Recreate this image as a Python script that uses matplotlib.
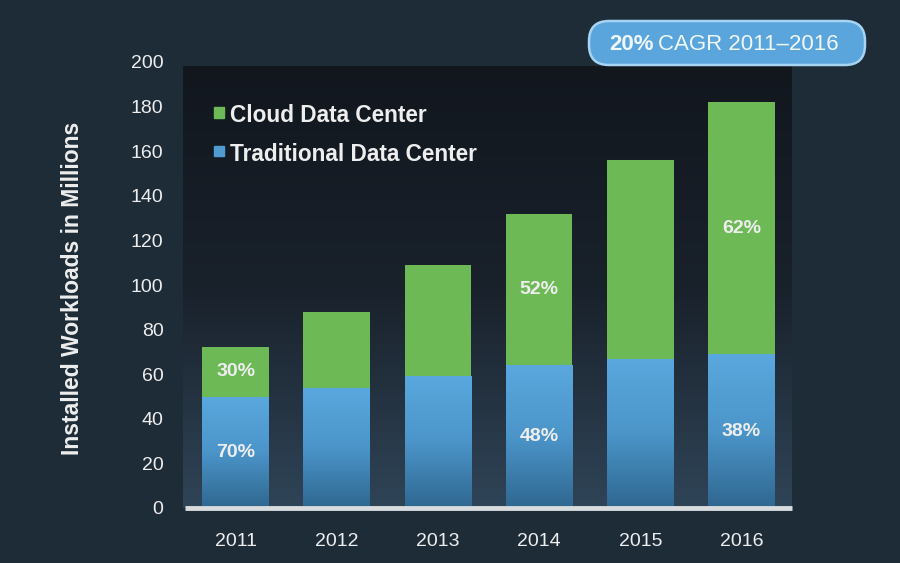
import numpy as np
import matplotlib
matplotlib.use("Agg")
import matplotlib.pyplot as plt
from matplotlib.patches import FancyBboxPatch, Rectangle

# дані з графіка
years = ["2011", "2012", "2013", "2014", "2015", "2016"]
traditional = [50, 54, 59, 64, 67, 69]
cloud = [22, 34, 50, 68, 89, 113]
cloud_pct = ["30%", "", "", "52%", "", "62%"]
trad_pct = ["70%", "", "", "48%", "", "38%"]
y_ticks = [0, 20, 40, 60, 80, 100, 120, 140, 160, 180, 200]

fig_bg = "#1e2c38"
green = "#6cb956"
text_col = "#eeeeee"

plt.rcParams["font.family"] = ["Liberation Sans", "DejaVu Sans"]

fig = plt.figure(figsize=(9, 5.63), dpi=100, facecolor=fig_bg)
ax = fig.add_axes([183 / 900, 1 - 508 / 563, (792 - 183) / 900, (508 - 62) / 563])
ax.set_facecolor("none")

x = np.arange(len(years))
ax.set_xlim(-0.52, 5.5)
ax.set_ylim(0, 200)

# темний фон області графіка (градієнт знизу трохи світліший)
grad = np.linspace(0, 1, 256).reshape(-1, 1)
bg_cmap = matplotlib.colors.LinearSegmentedColormap.from_list("bg", ["#2f4457", "#19212b", "#12171e"])
ax.imshow(grad, cmap=bg_cmap, aspect="auto", extent=(-0.52, 5.5, 0, 198), origin="lower", zorder=0)

# стовпці
width = 0.66
blue_cmap = matplotlib.colors.LinearSegmentedColormap.from_list("bl", ["#2f6790", "#4b95c9", "#5aa8de"])
bars_t = ax.bar(x, traditional, width, color="none", zorder=2)
for b in bars_t:
    im = ax.imshow(grad, cmap=blue_cmap, aspect="auto",
                   extent=(b.get_x(), b.get_x() + b.get_width(), 0, b.get_height()),
                   origin="lower", zorder=2)
    im.set_clip_path(b)
ax.bar(x, cloud, width, bottom=traditional, color=green, zorder=2)

# підписи відсотків
for i in range(len(years)):
    if cloud_pct[i]:
        ax.text(x[i], traditional[i] + cloud[i] * 0.5, cloud_pct[i], ha="center", va="center",
                color=text_col, fontsize=14, fontweight="bold", zorder=4)
    if trad_pct[i]:
        ax.text(x[i], traditional[i] * 0.5, trad_pct[i], ha="center", va="center",
                color=text_col, fontsize=14, fontweight="bold", zorder=4)

# нульова лінія
ax.plot([-0.5, 5.5], [0, 0], color="#d8dcdf", lw=3.5, solid_capstyle="butt", zorder=3, clip_on=False)

for s in ax.spines.values():
    s.set_visible(False)
ax.set_xticks(x)
ax.set_xticklabels(years)
ax.set_yticks(y_ticks)
ax.tick_params(axis="both", length=0, colors=text_col, labelsize=14)
ax.tick_params(axis="x", pad=18)
ax.tick_params(axis="y", pad=14)

fig.text(73 / 900, 1 - 288 / 563, "Installed Workloads in Millions", rotation=90,
         ha="center", va="center", color=text_col, fontsize=16.5, fontweight="bold")

# легенда
ax.add_patch(Rectangle((0.051, 0.875), 0.017, 0.023, transform=ax.transAxes, color=green, zorder=4))
ax.add_patch(Rectangle((0.051, 0.789), 0.017, 0.023, transform=ax.transAxes, color="#4f9bd2", zorder=4))
ax.text(0.077, 0.881, "Cloud Data Center", transform=ax.transAxes, color=text_col,
        fontsize=16.3, fontweight="bold", va="center", zorder=4)
ax.text(0.077, 0.793, "Traditional Data Center", transform=ax.transAxes, color=text_col,
        fontsize=16.3, fontweight="bold", va="center", zorder=4)

# плашка CAGR (у піксельних координатах)
over = fig.add_axes([0, 0, 1, 1], facecolor="none")
over.set_xlim(0, 900)
over.set_ylim(563, 0)
over.axis("off")
badge = FancyBboxPatch((589, 21), 276, 44, boxstyle="round,pad=0,rounding_size=20",
                       facecolor="#5aa5dc", edgecolor="#a6d4f2", lw=1.8)
over.add_patch(badge)
over.text(609, 44, "20%", color="#f0f7fb", fontsize=16, fontweight="bold", va="center")
over.text(658, 44, "CAGR 2011–2016", color="#f0f7fb", fontsize=16, va="center")

fig.savefig("out.png", dpi=100, facecolor=fig_bg)
